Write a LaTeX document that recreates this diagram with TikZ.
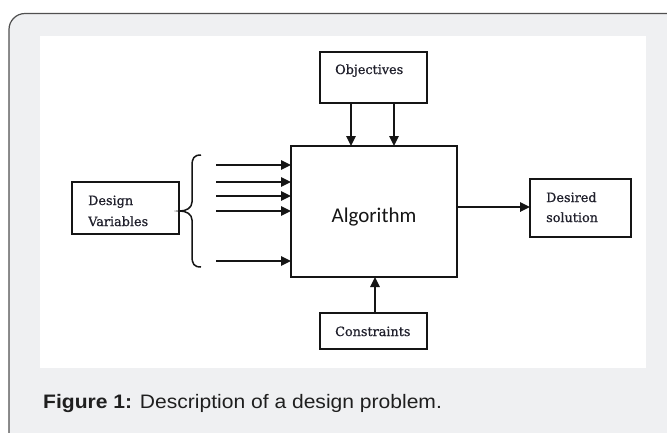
\documentclass[tikz,border=0pt]{standalone}
\usepackage{fontspec}
\setmainfont{DejaVu Serif}
\newfontfamily\lblfont[FakeBold=0.7]{DejaVu Serif}
\newfontfamily\capfont{Liberation Sans}
\newfontfamily\algfont{Carlito}
\usetikzlibrary{arrows.meta}
\definecolor{panelgray}{HTML}{EFF0F2}
\definecolor{framegray}{HTML}{505050}
\definecolor{ink}{HTML}{151515}
\definecolor{txt}{HTML}{20202C}
\begin{document}
\begin{tikzpicture}[x=1pt,y=-1pt,
  box/.style={draw=ink,line width=1.7pt,fill=white,inner sep=0pt,outer sep=0pt},
  lbl/.style={font=\lblfont\fontsize{12.8}{15}\selectfont,text=txt,inner sep=0pt},
  arr/.style={draw=ink,line width=1.7pt,-{Triangle[length=10pt,width=9.5pt]}}]
\useasboundingbox (0,0) rectangle (667,432);
\fill[white] (0,0) rectangle (667,432);
\begin{scope}
\clip (0,0) rectangle (667,432);
\draw[framegray,line width=1.2pt,fill=panelgray,rounded corners=16pt] (9,13.5) rectangle (690,460);
\end{scope}
\fill[white] (40,36) rectangle (646,368);
% boxes
\node[box,minimum width=166pt,minimum height=131pt] (alg) at (374,211.5) {};
\node[box,minimum width=107pt,minimum height=51pt] (obj) at (373.5,77.5) {};
\node[box,minimum width=107pt,minimum height=36pt] (con) at (373.5,331) {};
\node[box,minimum width=107pt,minimum height=52pt] (dv) at (125.5,208) {};
\node[box,minimum width=101pt,minimum height=58pt] (ds) at (580.5,208) {};
% texts
\node[font=\algfont\fontsize{21}{24}\selectfont,text=ink,anchor=base,inner sep=0pt] (algt) at (374,222) {Algorithm};
\node[lbl,anchor=base west] (objt) at (335,74) {Objectives};
\node[lbl,anchor=base west] (cont) at (335,336) {Constraints};
\node[lbl,anchor=base west] (dvt1) at (88,205) {Design};
\node[lbl,anchor=base west] (dvt2) at (88,226) {Variables};
\node[lbl,anchor=base west] (dst1) at (546,202) {Desired};
\node[lbl,anchor=base west] (dst2) at (546,222) {solution};
% brace
\draw[ink,line width=1.5pt] (201,155) .. controls (194,155) and (192,158) .. (192,166) -- (192,202) .. controls (192,208) and (186,211) .. (180,211) .. controls (186,211) and (192,214) .. (192,220) -- (192,256) .. controls (192,264) and (194,267) .. (201,267);
% input arrows
\coordinate (s1) at (216,165);
\coordinate (s2) at (216,182);
\coordinate (s3) at (216,196);
\coordinate (s4) at (216,211);
\coordinate (s5) at (216,261);
\foreach \s in {s1,s2,s3,s4,s5} \draw[arr] (\s) -- (\s -| alg.west);
% objectives arrows
\coordinate (o1) at (351,0);
\coordinate (o2) at (394,0);
\draw[arr] (obj.south -| o1) -- (alg.north -| o1);
\draw[arr] (obj.south -| o2) -- (alg.north -| o2);
% constraints arrow
\coordinate (c1) at (375,0);
\draw[arr] (con.north -| c1) -- (alg.south -| c1);
% output arrow
\coordinate (r1) at (0,207);
\draw[arr] (alg.east |- r1) -- (ds.west |- r1);
% caption
\node[anchor=base west,inner sep=0pt,text=black!88,font=\capfont\fontsize{19.5}{22}\selectfont] (cap) at (43,408) {\scalebox{1.08}[1]{\textbf{Figure 1:} Description of a design problem.}};
\end{tikzpicture}
\end{document}
